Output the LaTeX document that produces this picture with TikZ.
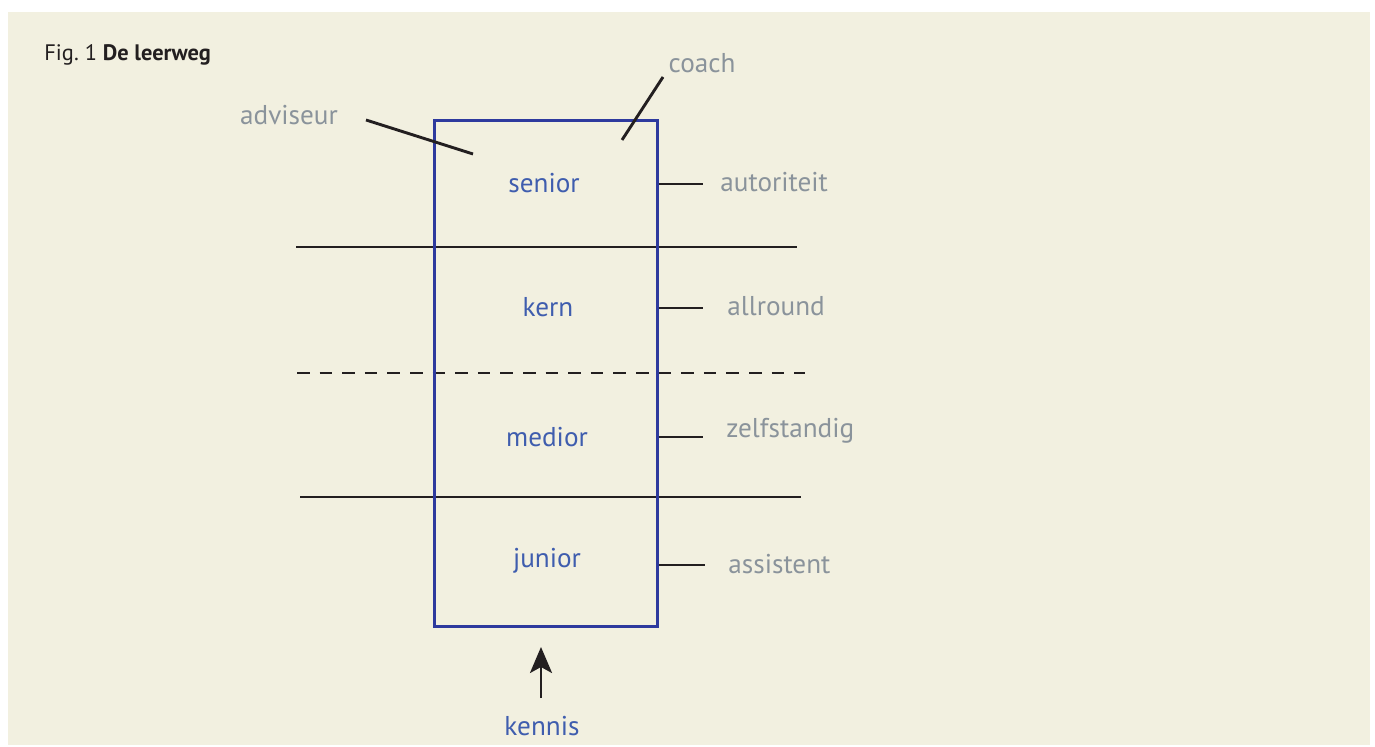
\documentclass[tikz,border=0pt]{standalone}
\usepackage{fontspec}
\setmainfont{PT Sans}
\usetikzlibrary{arrows.meta}
\definecolor{paper}{HTML}{F2F0E0}
\definecolor{frameblue}{HTML}{2E3A9E}
\definecolor{levelblue}{HTML}{3F5DAE}
\definecolor{rolegray}{HTML}{8A939B}
\definecolor{ink}{HTML}{231F20}
\tikzset{
  level/.style={text=levelblue, font=\fontsize{13.6}{15}\selectfont, inner sep=0pt},
  role/.style={text=rolegray, font=\fontsize{13.6}{15}\selectfont, inner sep=0pt},
  rule/.style={draw=ink, line width=1.45pt},
  tick/.style={draw=ink, line width=1.45pt},
}
\begin{document}
\begin{tikzpicture}[x=0.5pt, y=-0.5pt]
  \useasboundingbox (0,0) rectangle (1375,747);
  \fill[white] (0,0) rectangle (1375,747);
  \fill[paper] (8,12) rectangle (1370,745);

  % caption
  \node[anchor=west, inner sep=0pt, text=ink, font=\fontsize{11.2}{13}\selectfont] (title) at (44,55) {Fig.~1 \textbf{De leerweg}};

  % layer separators
  \coordinate (s1a) at (296,247); \coordinate (s1b) at (797,247);
  \coordinate (s2a) at (297,373); \coordinate (s2b) at (805,373);
  \coordinate (s3a) at (300,497); \coordinate (s3b) at (801,497);
  \draw[rule] (s1a) -- (s1b);
  \draw[rule, dash pattern=on 6.3pt off 5pt] (s2a) -- (s2b);
  \draw[rule] (s3a) -- (s3b);

  % career box
  \node[draw=frameblue, line width=1.5pt, minimum width=111.5pt, minimum height=253pt, inner sep=0pt] (box) at (545.5,374) {};

  % levels
  \node[level] (senior) at (544,183) {senior};
  \node[level] (kern) at (548,307) {kern};
  \node[level] (medior) at (547,437) {medior};
  \node[level] (junior) at (547,561) {junior};

  % roles
  \node[role, anchor=west] (autoriteit) at (720,182) {autoriteit};
  \node[role, anchor=west] (allround) at (727,306) {allround};
  \node[role, anchor=west] (zelfstandig) at (726,431) {zelfstandig};
  \node[role, anchor=west] (assistent) at (728,564) {assistent};
  \node[role] (adviseur) at (289,115) {adviseur};
  \node[role] (coach) at (702,63) {coach};

  % ticks from the box to the roles
  \coordinate (t1) at (703,184); \coordinate (t2) at (703,308);
  \coordinate (t3) at (703,437); \coordinate (t4) at (705,565);
  \draw[tick] (box.east |- t1) -- (t1);
  \draw[tick] (box.east |- t2) -- (t2);
  \draw[tick] (box.east |- t3) -- (t3);
  \draw[tick] (box.east |- t4) -- (t4);

  % pointer lines
  \coordinate (a1) at (366,120); \coordinate (a2) at (473,154);
  \coordinate (c1) at (663,77); \coordinate (c2) at (622,140);
  \draw[tick] (a1) -- (a2);
  \draw[tick] (c1) -- (c2);

  % knowledge arrow
  \node[level] (kennis) at (542,726) {kennis};
  \coordinate (k1) at (541,698); \coordinate (k2) at (541,647);
  \draw[ink, line width=1.45pt, -{Stealth[length=13pt, width=11pt, inset=3pt]}] (k1) -- (k2);
\end{tikzpicture}
\end{document}
